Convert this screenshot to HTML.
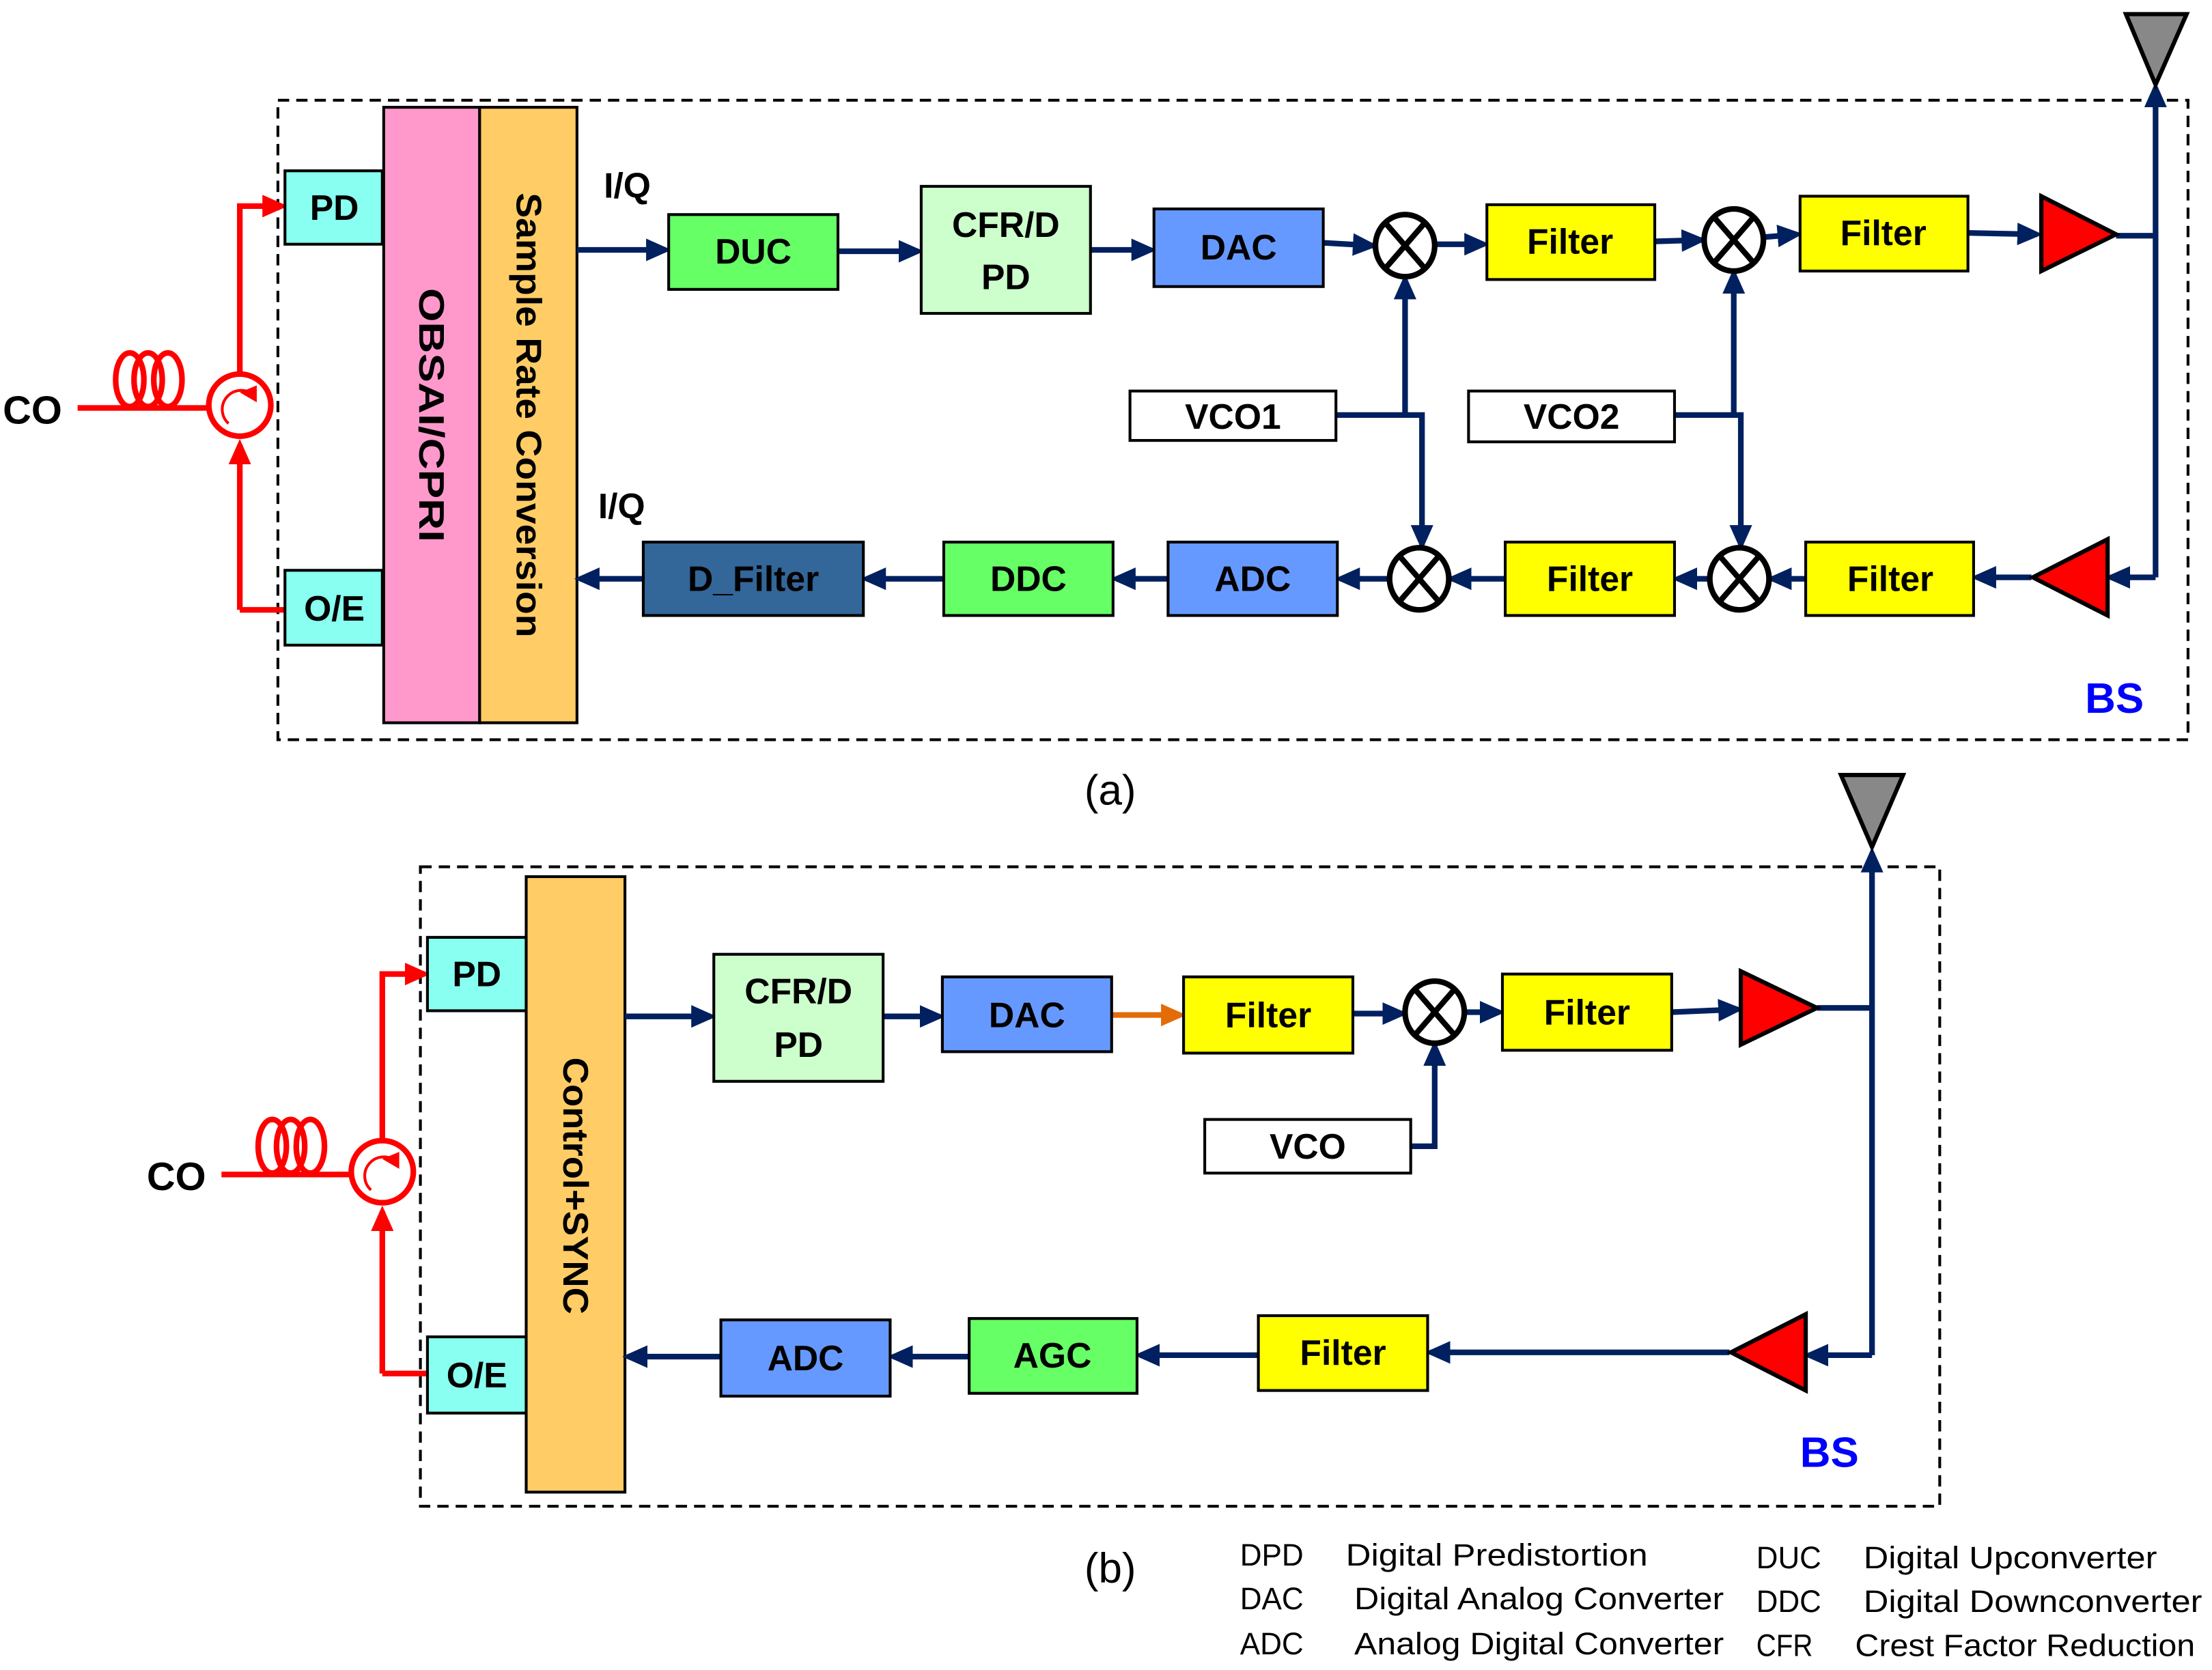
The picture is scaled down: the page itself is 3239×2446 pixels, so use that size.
<!DOCTYPE html>
<html><head><meta charset="utf-8"><style>
html,body{margin:0;padding:0;background:#fff}
svg{display:block}
text{font-family:"Liberation Sans",sans-serif}
.b{font-weight:bold;font-size:25px;text-anchor:middle;dominant-baseline:central}
.l{font-size:22px}
</style></head><body>
<svg width="3239" height="2446" viewBox="0 0 1568 1183" preserveAspectRatio="none" xmlns="http://www.w3.org/2000/svg">
<defs>
<marker id="a" markerWidth="4.5" markerHeight="4" refX="3.5" refY="2" orient="auto" markerUnits="strokeWidth"><path d="M0,0 L4.5,2 L0,4 z" fill="#002060"/></marker>
<marker id="r" markerWidth="4.5" markerHeight="4" refX="3.5" refY="2" orient="auto" markerUnits="strokeWidth"><path d="M0,0 L4.5,2 L0,4 z" fill="#f00"/></marker>
<marker id="o" markerWidth="4.5" markerHeight="4" refX="3.5" refY="2" orient="auto" markerUnits="strokeWidth"><path d="M0,0 L4.5,2 L0,4 z" fill="#e36c09"/></marker>
<g id="mix"><ellipse cx="0" cy="0" rx="21" ry="22" fill="#fff" stroke="#000" stroke-width="4"/><path d="M-13,-15 L13,15 M13,-15 L-13,15" stroke="#000" stroke-width="4"/></g>
<g id="circ"><circle cx="0" cy="0" r="22" fill="#fff" stroke="#f00" stroke-width="4"/><path d="M-8,13 A13,13 0 1 1 10,-7" fill="none" stroke="#f00" stroke-width="2"/><path d="M0,-9 L12,-14 L12,-2 z" fill="#f00"/></g>
<g id="coil" fill="none" stroke="#f00" stroke-width="4"><ellipse cx="10" cy="-20" rx="10" ry="19"/><ellipse cx="23" cy="-20" rx="10" ry="19"/><ellipse cx="37" cy="-20" rx="10" ry="19"/></g>
</defs>

<!-- ===== (a) ===== -->
<rect x="197" y="71" width="1354" height="453" fill="none" stroke="#000" stroke-width="2" stroke-dasharray="8,5"/>
<g stroke="#f00" stroke-width="4" fill="none">
<path d="M55,289 H148"/>
<path d="M170,265 V146 H200" marker-end="url(#r)"/>
<path d="M170,432 V315" marker-end="url(#r)"/>
<path d="M170,432 H202"/>
</g>
<use href="#coil" x="82" y="289"/>
<use href="#circ" x="170" y="287"/>
<text x="2" y="300" style="font-weight:bold;font-size:28px">CO</text>

<rect x="202" y="121" width="69" height="52" fill="#88fff0" stroke="#000" stroke-width="2"/>
<text class="b" x="237" y="147">PD</text>
<rect x="202" y="404" width="69" height="53" fill="#88fff0" stroke="#000" stroke-width="2"/>
<text class="b" x="237" y="431">O/E</text>
<rect x="272" y="76" width="68" height="436" fill="#ff99cc" stroke="#000" stroke-width="2"/>
<rect x="340" y="76" width="69" height="436" fill="#ffcc66" stroke="#000" stroke-width="2"/>
<text class="b" transform="translate(306,294) rotate(90)" textLength="180" lengthAdjust="spacingAndGlyphs">OBSAI/CPRI</text>
<text class="b" transform="translate(375,294) rotate(90)" textLength="315" lengthAdjust="spacingAndGlyphs">Sample Rate Conversion</text>

<text x="428" y="140" style="font-weight:bold;font-size:25px">I/Q</text>
<text x="424" y="367" style="font-weight:bold;font-size:25px">I/Q</text>

<g stroke="#002060" stroke-width="4" fill="none">
<path d="M409,177 H472" marker-end="url(#a)"/>
<path d="M594,178 H651" marker-end="url(#a)"/>
<path d="M773,177 H816" marker-end="url(#a)"/>
<path d="M938,172 L973,174" marker-end="url(#a)"/>
<path d="M1017,173 H1052" marker-end="url(#a)"/>
<path d="M1173,171 L1206,170" marker-end="url(#a)"/>
<path d="M1250,168 L1274,166" marker-end="url(#a)"/>
<path d="M1395,165 L1444,166" marker-end="url(#a)"/>
<path d="M1500,167 H1528 M1528,409 V62" marker-end="url(#a)"/>
<path d="M1528,409 H1496" marker-end="url(#a)"/>
<path d="M1440,409 H1401" marker-end="url(#a)"/>
<path d="M1280,410 H1256" marker-end="url(#a)"/>
<path d="M1212,410 H1189" marker-end="url(#a)"/>
<path d="M1067,410 H1029" marker-end="url(#a)"/>
<path d="M985,410 H950" marker-end="url(#a)"/>
<path d="M828,410 H791" marker-end="url(#a)"/>
<path d="M669,410 H614" marker-end="url(#a)"/>
<path d="M456,410 H411" marker-end="url(#a)"/>
<path d="M947,294 H996 V198" marker-end="url(#a)"/>
<path d="M996,294 H1008 V386" marker-end="url(#a)"/>
<path d="M1187,294 H1229 V194" marker-end="url(#a)"/>
<path d="M1229,294 H1234 V386" marker-end="url(#a)"/>
</g>

<rect x="474" y="152" width="120" height="53" fill="#66ff66" stroke="#000" stroke-width="2"/>
<text class="b" x="534" y="178">DUC</text>
<rect x="653" y="132" width="120" height="90" fill="#ccffcc" stroke="#000" stroke-width="2"/>
<text class="b" x="713" y="159">CFR/D</text><text class="b" x="713" y="196">PD</text>
<rect x="818" y="148" width="120" height="55" fill="#6699ff" stroke="#000" stroke-width="2"/>
<text class="b" x="878" y="175">DAC</text>
<use href="#mix" x="996" y="174"/>
<rect x="1054" y="145" width="119" height="53" fill="#ffff00" stroke="#000" stroke-width="2"/>
<text class="b" x="1113" y="171">Filter</text>
<use href="#mix" x="1229" y="170"/>
<rect x="1276" y="139" width="119" height="53" fill="#ffff00" stroke="#000" stroke-width="2"/>
<text class="b" x="1335" y="165">Filter</text>
<path d="M1447,139 L1500,166 L1447,192 z" fill="#f00" stroke="#000" stroke-width="3"/>
<path d="M1507,10 L1550,10 L1528,60 z" fill="#888" stroke="#000" stroke-width="3"/>
<rect x="801" y="277" width="146" height="35" fill="#fff" stroke="#000" stroke-width="2"/>
<text class="b" x="874" y="295">VCO1</text>
<rect x="1041" y="277" width="146" height="36" fill="#fff" stroke="#000" stroke-width="2"/>
<text class="b" x="1114" y="295">VCO2</text>

<path d="M1494,382 L1494,436 L1441,409 z" fill="#f00" stroke="#000" stroke-width="3"/>
<rect x="1280" y="384" width="119" height="52" fill="#ffff00" stroke="#000" stroke-width="2"/>
<text class="b" x="1340" y="410">Filter</text>
<use href="#mix" x="1233" y="410"/>
<rect x="1067" y="384" width="120" height="52" fill="#ffff00" stroke="#000" stroke-width="2"/>
<text class="b" x="1127" y="410">Filter</text>
<use href="#mix" x="1006" y="410"/>
<rect x="828" y="384" width="120" height="52" fill="#6699ff" stroke="#000" stroke-width="2"/>
<text class="b" x="888" y="410">ADC</text>
<rect x="669" y="384" width="120" height="52" fill="#66ff66" stroke="#000" stroke-width="2"/>
<text class="b" x="729" y="410">DDC</text>
<rect x="456" y="384" width="156" height="52" fill="#336699" stroke="#000" stroke-width="2"/>
<text class="b" x="534" y="410">D_Filter</text>
<text x="1478" y="505" style="font-weight:bold;font-size:30px;fill:#0000ff">BS</text>
<text x="787" y="570" style="font-size:30px;text-anchor:middle">(a)</text>

<!-- ===== (b) ===== -->
<rect x="298" y="614" width="1077" height="453" fill="none" stroke="#000" stroke-width="2" stroke-dasharray="8,5"/>
<g stroke="#f00" stroke-width="4" fill="none">
<path d="M157,832 H249"/>
<path d="M271,808 V690 H301" marker-end="url(#r)"/>
<path d="M271,973 V858" marker-end="url(#r)"/>
<path d="M271,973 H303"/>
</g>
<use href="#coil" x="183" y="832"/>
<use href="#circ" x="271" y="830"/>
<text x="104" y="843" style="font-weight:bold;font-size:28px">CO</text>

<rect x="303" y="664" width="70" height="52" fill="#88fff0" stroke="#000" stroke-width="2"/>
<text class="b" x="338" y="690">PD</text>
<rect x="303" y="947" width="70" height="54" fill="#88fff0" stroke="#000" stroke-width="2"/>
<text class="b" x="338" y="974">O/E</text>
<rect x="373" y="621" width="70" height="436" fill="#ffcc66" stroke="#000" stroke-width="2"/>
<text class="b" transform="translate(408,840) rotate(90)" textLength="182" lengthAdjust="spacingAndGlyphs">Control+SYNC</text>

<g stroke="#002060" stroke-width="4" fill="none">
<path d="M443,720 H504" marker-end="url(#a)"/>
<path d="M626,720 H666" marker-end="url(#a)"/>
<path d="M959,718 L994,718" marker-end="url(#a)"/>
<path d="M1038,717 H1063" marker-end="url(#a)"/>
<path d="M1185,717 L1232,715" marker-end="url(#a)"/>
<path d="M1288,714 H1327 M1327,960 V604" marker-end="url(#a)"/>
<path d="M1327,960 H1282" marker-end="url(#a)"/>
<path d="M1226,958 L1014,958" marker-end="url(#a)"/>
<path d="M892,960 H808" marker-end="url(#a)"/>
<path d="M687,961 H633" marker-end="url(#a)"/>
<path d="M511,961 H445" marker-end="url(#a)"/>
<path d="M1000,812 H1017 V741" marker-end="url(#a)"/>
</g>
<path d="M788,719 H837" stroke="#e36c09" stroke-width="4" marker-end="url(#o)"/>

<rect x="506" y="676" width="120" height="90" fill="#ccffcc" stroke="#000" stroke-width="2"/>
<text class="b" x="566" y="702">CFR/D</text><text class="b" x="566" y="740">PD</text>
<rect x="668" y="692" width="120" height="53" fill="#6699ff" stroke="#000" stroke-width="2"/>
<text class="b" x="728" y="719">DAC</text>
<rect x="839" y="692" width="120" height="54" fill="#ffff00" stroke="#000" stroke-width="2"/>
<text class="b" x="899" y="719">Filter</text>
<use href="#mix" x="1017" y="717"/>
<rect x="1065" y="690" width="120" height="54" fill="#ffff00" stroke="#000" stroke-width="2"/>
<text class="b" x="1125" y="717">Filter</text>
<path d="M1234,688 L1288,714 L1234,740 z" fill="#f00" stroke="#000" stroke-width="3"/>
<path d="M1305,549 L1349,549 L1327,600 z" fill="#888" stroke="#000" stroke-width="3"/>
<rect x="854" y="793" width="146" height="38" fill="#fff" stroke="#000" stroke-width="2"/>
<text class="b" x="927" y="812">VCO</text>

<path d="M1280,931 L1280,985 L1227,958 z" fill="#f00" stroke="#000" stroke-width="3"/>
<rect x="892" y="932" width="120" height="53" fill="#ffff00" stroke="#000" stroke-width="2"/>
<text class="b" x="952" y="958">Filter</text>
<rect x="687" y="934" width="119" height="53" fill="#66ff66" stroke="#000" stroke-width="2"/>
<text class="b" x="746" y="960">AGC</text>
<rect x="511" y="935" width="120" height="54" fill="#6699ff" stroke="#000" stroke-width="2"/>
<text class="b" x="571" y="962">ADC</text>
<text x="1276" y="1039" style="font-weight:bold;font-size:30px;fill:#0000ff">BS</text>
<text x="787" y="1121" style="font-size:30px;text-anchor:middle">(b)</text>

<g class="l">
<text x="879" y="1109" textLength="45" lengthAdjust="spacingAndGlyphs">DPD</text>
<text x="954" y="1109" textLength="214" lengthAdjust="spacingAndGlyphs">Digital Predistortion</text>
<text x="1245" y="1111" textLength="46" lengthAdjust="spacingAndGlyphs">DUC</text>
<text x="1321" y="1111" textLength="208" lengthAdjust="spacingAndGlyphs">Digital Upconverter</text>
<text x="879" y="1140" textLength="45" lengthAdjust="spacingAndGlyphs">DAC</text>
<text x="960" y="1140" textLength="262" lengthAdjust="spacingAndGlyphs">Digital Analog Converter</text>
<text x="1245" y="1142" textLength="46" lengthAdjust="spacingAndGlyphs">DDC</text>
<text x="1321" y="1142" textLength="240" lengthAdjust="spacingAndGlyphs">Digital Downconverter</text>
<text x="879" y="1172" textLength="45" lengthAdjust="spacingAndGlyphs">ADC</text>
<text x="960" y="1172" textLength="262" lengthAdjust="spacingAndGlyphs">Analog Digital Converter</text>
<text x="1245" y="1173" textLength="40" lengthAdjust="spacingAndGlyphs">CFR</text>
<text x="1315" y="1173" textLength="241" lengthAdjust="spacingAndGlyphs">Crest Factor Reduction</text>
</g>
</svg>
</body></html>
